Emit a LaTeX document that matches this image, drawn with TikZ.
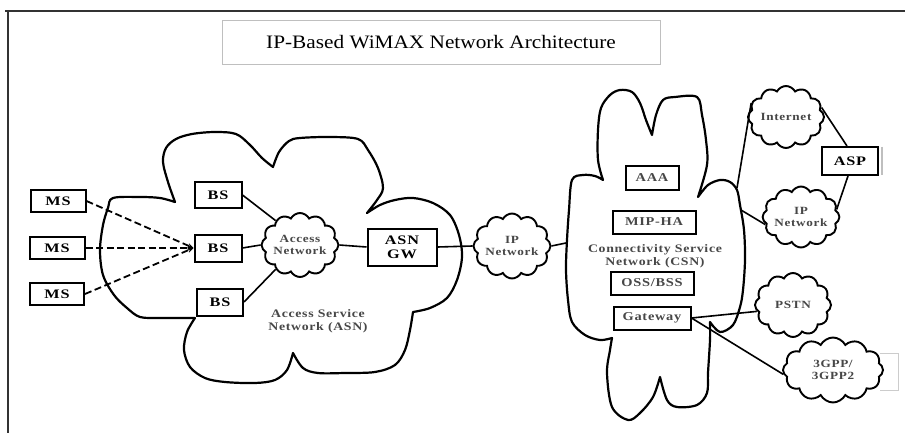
\documentclass[tikz,border=0pt]{standalone}
\usepackage{fontspec}
\setmainfont{Liberation Serif}
\newfontfamily\titlefont[FakeStretch=1.12]{Liberation Serif}
\newfontfamily\boxfont[FakeStretch=1.25,LetterSpace=6]{Liberation Serif}
\newfontfamily\lblfont[FakeStretch=1.2,LetterSpace=6]{Liberation Serif}
\usetikzlibrary{shapes.symbols,arrows.meta}
\tikzset{
  outline/.style={draw=black, line width=2.2pt, line join=round, line cap=round},
  bbox/.style={draw=black, line width=2pt, rectangle, inner sep=0pt, align=center,
     font=\boxfont\bfseries\fontsize{13}{14}\selectfont, text=black},
  rbox/.style={draw=black, line width=2pt, rectangle, inner sep=0pt, align=center,
     font=\lblfont\bfseries\fontsize{12}{13}\selectfont, text=black!72},
  smallcloud/.style={cloud, draw=black, line width=1.9pt, cloud puffs=12, cloud puff arc=125,
     cloud ignores aspect, inner sep=0pt, align=center,
     font=\lblfont\bfseries\fontsize{11}{12}\selectfont, text=black!72},
  conn/.style={draw=black, line width=1.6pt},
  dconn/.style={draw=black, line width=1.8pt, dash pattern=on 7pt off 3.5pt,
     -{Stealth[length=6pt,width=5pt]}},
  lbl/.style={align=center, font=\lblfont\bfseries\fontsize{11.5}{12.5}\selectfont, text=black!72, inner sep=0pt}
}
\begin{document}
\begin{tikzpicture}[x=1pt,y=-1pt]
\useasboundingbox (0,0) rectangle (905,433);
\fill[white] (0,0) rectangle (905,433);
% frame lines
\draw[black!80, line width=1.2pt] (5,11) -- (905,11);
\draw[black!80, line width=1.2pt] (8,11) -- (8,433);
% title
\node[draw=black!25, line width=0.8pt, minimum width=438pt, minimum height=44pt, inner sep=0pt,
      font=\titlefont\fontsize{19}{22}\selectfont] (title) at (441,42) {IP-Based WiMAX Network Architecture};

% ASN big cloud
\draw[outline]
  plot[smooth, tension=0.55] coordinates {(175,202) (168,182) (163,162) (166,148) (176,139) (192,134) (215,132) (236,134) (250,145) (262,158) (273,167)}
  -- plot[smooth, tension=0.55] coordinates {(273,167) (279,152) (289,141) (300,138) (330,137) (358,139) (368,150) (378,168) (383,188) (377,200) (367,213)}
  -- plot[smooth, tension=0.55] coordinates {(367,213) (380,205) (395,200) (413,198) (433,203) (450,215) (459,235) (462,257) (457,280) (447,298) (430,308) (413,312)}
  -- plot[smooth, tension=0.55] coordinates {(413,312) (410,330) (405,350) (395,365) (375,372) (345,373) (318,373) (303,368) (293,353)}
  -- plot[smooth, tension=0.55] coordinates {(293,353) (287,370) (275,380) (255,383) (225,382) (205,378) (190,367) (184,350) (187,332) (195,318)}
  -- plot[smooth, tension=0.55] coordinates {(195,318) (180,318) (160,318) (140,317) (127,308) (114,295) (103,275) (100,250) (103,225) (108,208) (113,198) (140,197) (160,198) (175,202)}
  -- cycle;

% CSN big cloud
\draw[outline]
  plot[smooth, tension=0.55] coordinates {(603,180) (598,160) (598,130) (601,108) (610,95) (620,90) (632,92) (640,103) (646,120) (652,135)}
  -- plot[smooth, tension=0.55] coordinates {(652,135) (656,115) (663,100) (675,97) (697,97) (702,115) (706,140) (707,165) (698,197)}
  -- plot[smooth, tension=0.55] coordinates {(698,197) (708,185) (720,180) (730,182) (737,190) (740,205) (744,230) (745,260) (743,290) (740,307) (733,325) (720,332) (710,322)}
  -- plot[smooth, tension=0.55] coordinates {(710,322) (710,340) (708,373) (707,393) (697,405) (677,407) (667,400) (660,377)}
  -- plot[smooth, tension=0.55] coordinates {(660,377) (653,397) (640,413) (628,420) (612,407) (607,373) (610,350) (612,338)}
  -- plot[smooth, tension=0.55] coordinates {(612,338) (600,340) (585,335) (572,322) (568,300) (566,270) (567,240) (569,210) (572,180) (583,175) (595,176) (603,180)}
  -- cycle;

% MS boxes
\node[bbox, minimum width=55pt, minimum height=22pt] (ms1) at (58,201) {MS};
\node[bbox, minimum width=55pt, minimum height=22pt] (ms2) at (57,248) {MS};
\node[bbox, minimum width=54pt, minimum height=22pt] (ms3) at (57,294) {MS};
% BS boxes
\node[bbox, minimum width=47pt, minimum height=26pt] (bs1) at (218,195) {BS};
\node[bbox, minimum width=47pt, minimum height=27pt] (bs2) at (218,248) {BS};
\node[bbox, minimum width=46pt, minimum height=27pt] (bs3) at (220,302) {BS};
% Access network cloud
\node[smallcloud, minimum width=76pt, minimum height=64pt] (an) at (300,245) {Access\\Network};
% ASN GW
\node[bbox, minimum width=69pt, minimum height=37pt] (asngw) at (402,247) {ASN\\GW};
% ASN label
\node[lbl] (asnlbl) at (318,321) {Access Service\\Network (ASN)};
% IP network
\node[smallcloud, minimum width=77pt, minimum height=65pt] (ipn) at (512,246) {IP\\Network};

% CSN contents
\node[rbox, minimum width=53pt, minimum height=24pt] (aaa) at (652,178) {AAA};
\node[rbox, minimum width=83pt, minimum height=23pt] (mip) at (654,222) {MIP-HA};
\node[lbl] (csnlbl) at (655,256) {Connectivity Service\\Network (CSN)};
\node[rbox, minimum width=83pt, minimum height=23pt] (oss) at (652,283) {OSS/BSS};
\node[rbox, minimum width=77pt, minimum height=23pt] (gw) at (652,318) {Gateway};

% right side clouds
\node[smallcloud, minimum width=76pt, minimum height=62pt] (inet) at (786,117) {Internet};
\node[bbox, minimum width=56pt, minimum height=28pt] (asp) at (850,161) {ASP};
\draw[black!25, line width=1.2pt] (882,147) -- (882,175);
\node[smallcloud, minimum width=76pt, minimum height=61pt] (ipn2) at (801,217) {IP\\Network};
\node[smallcloud, minimum width=76pt, minimum height=64pt] (pstn) at (793,305) {PSTN};
\node[smallcloud, minimum width=100pt, minimum height=65pt] (g3) at (833,370) {3GPP/\\3GPP2};
\draw[black!20, line width=1pt] (880,353) -- (898,353) -- (898,390) -- (880,390);

% coordinates on CSN border
\coordinate (csnL) at (566,243);
\coordinate (csnR1) at (737,188);
\coordinate (csnR2) at (741,210);

% connectors
\draw[dconn] (ms1.east) -- (bs2.west);
\draw[dconn] (ms2.east) -- (bs2.west);
\draw[dconn] (ms3.east) -- (bs2.west);
\draw[conn] (bs1.east) -- (an.135);
\draw[conn] (bs2.east) -- (an.west);
\draw[conn] (bs3.east) -- (an.225);
\draw[conn] (an.east) -- (asngw.west);
\draw[conn] (asngw.east) -- (ipn.west);
\draw[conn] (ipn.east) -- (csnL);
\draw[conn] (inet.158) -- (csnR1);
\draw[conn] (csnR2) -- (ipn2.192);
\draw[conn] (inet.15) -- ([xshift=-3pt]asp.north);
\draw[conn] (ipn2.12) -- ([xshift=-2pt]asp.south);
\draw[conn] (gw.east) -- (pstn.190);
\draw[conn] (gw.east) -- (g3.185);
\end{tikzpicture}
\end{document}
